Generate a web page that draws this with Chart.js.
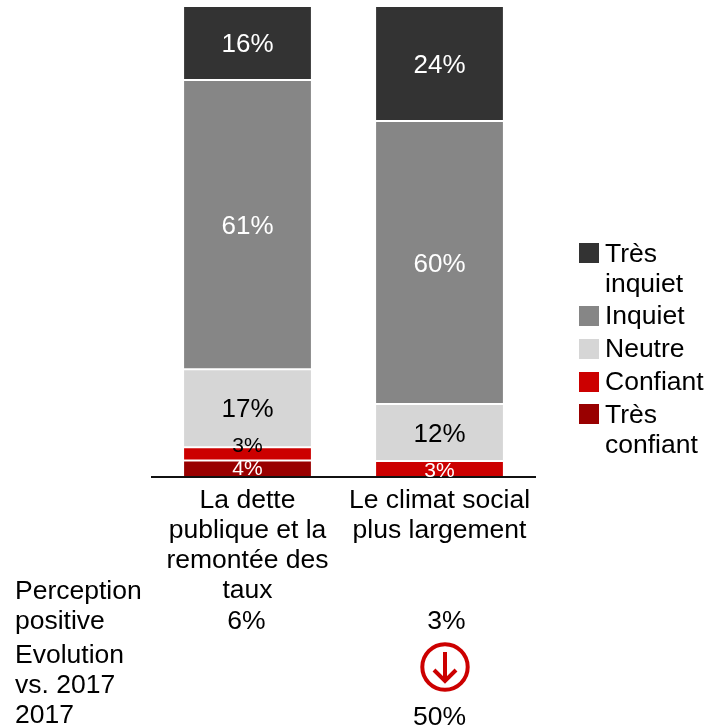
<!DOCTYPE html>
<html><head><meta charset="utf-8">
<style>html,body{margin:0;padding:0;background:#fff}#w{position:relative;width:707px;height:728px}</style>
<script src="https://cdn.jsdelivr.net/npm/chart.js@4"></script></head>
<body><div id="w"><canvas id="c" width="707" height="728"></canvas></div>
<script>
const categories=[["La dette","publique et la","remontée des","taux"],["Le climat social","plus largement"]];
const tresConfiant=[3.5,0];
const confiant=[2.8,3.4];
const neutre=[16.6,12.1];
const inquiet=[61.4,60.1];
const tresInquiet=[15.7,24.4];
const seriesNames=["Très confiant","Confiant","Neutre","Inquiet","Très inquiet"];
const seriesColors=["#990000","#CC0000","#D6D6D6","#868686","#333333"];
const perception=["6%","3%"];
const y2017=[null,"50%"];
const FONT='"Liberation Sans", Arial, sans-serif';
const series=[tresConfiant,confiant,neutre,inquiet,tresInquiet];

const overlay={id:'overlay',afterDraw(ch){
  const c=ch.ctx,x=ch.scales.x;
  c.save();c.textBaseline='middle';
  // data labels
  ch.data.datasets.forEach((d,i)=>{
    const m=ch.getDatasetMeta(i);
    d.data.forEach((v,j)=>{
      if(!v)return;
      const b=m.data[j];
      const small=v<5;
      let dy=0;
      if(small&&i===1&&j===0)dy=-10;
      if(small&&i===0)dy=-2;
      c.font=(small?21:26)+'px '+FONT;
      c.textAlign='center';
      c.fillStyle=(i===2||(i===1&&j===0))?'#000':'#fff';
      c.fillText(Math.round(v)+'%',b.x,(b.y+b.base)/2+dy+2);
    });
  });
  // legend
  const rows=[[4,["Très","inquiet"],253,255],[3,["Inquiet"],316,317],[2,["Neutre"],349,350],[1,["Confiant"],382,383],[0,["Très","confiant"],414,416]];
  c.textAlign='left';c.font='26.5px '+FONT;
  rows.forEach(([k,t,sq,ty])=>{
    c.fillStyle=seriesColors[k];c.fillRect(579,sq-10,20,20);
    c.fillStyle='#000';
    t.forEach((s,n)=>c.fillText(s,605,ty+n*29.5));
  });
  // table rows
  c.font='26.5px '+FONT;c.fillStyle='#000';c.textAlign='left';
  c.fillText("Perception",15,592);c.fillText("positive",15,622);
  c.fillText("Evolution",15,656);c.fillText("vs. 2017",15,686);
  c.fillText("2017",15,716);
  c.textAlign='center';
  const px0=x.getPixelForTick(0),px1=x.getPixelForTick(1);
  c.fillText(perception[0],px0-1,622);
  c.fillText(perception[1],px1+7,622);
  c.fillText(y2017[1],px1,718);
  // evolution icon
  const cx=px1+5.5,cy=667;
  c.strokeStyle='#CC0000';c.lineWidth=4;
  c.beginPath();c.arc(cx,cy,22.7,0,Math.PI*2);c.stroke();
  c.beginPath();c.moveTo(cx,652);c.lineTo(cx,680);c.stroke();
  c.beginPath();c.moveTo(cx-11,670);c.lineTo(cx,681);c.lineTo(cx+11,670);c.stroke();
  c.restore();
}};

new Chart(document.getElementById('c'),{
  type:'bar',
  data:{labels:categories,datasets:seriesNames.map((n,i)=>({
    label:n,data:series[i],backgroundColor:seriesColors[i],borderColor:'#fff',
    borderWidth:{top:1,bottom:1,left:0,right:0},borderSkipped:false,
    categoryPercentage:1,barPercentage:0.661
  }))},
  options:{
    responsive:false,animation:false,
    layout:{padding:{left:151.5,right:171.5,top:6,bottom:0}},
    plugins:{legend:{display:false},tooltip:{enabled:false}},
    scales:{
      x:{stacked:true,grid:{display:false,drawTicks:false},
        border:{display:true,color:'#111',width:2,z:2},
        afterFit(s){s.height=251;},
        ticks:{color:'#000',padding:9,maxRotation:0,autoSkip:false,font:{family:FONT,size:26.5,lineHeight:1.132}}},
      y:{stacked:true,display:false,min:0,max:100}
    }
  },
  plugins:[overlay]
});
</script></body></html>
